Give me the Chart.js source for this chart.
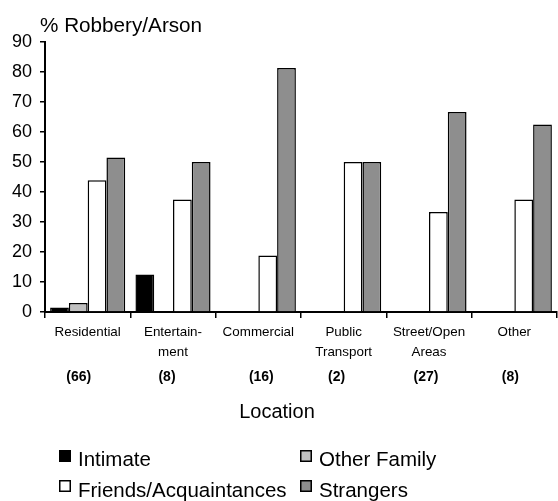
<!DOCTYPE html>
<html>
<head>
<meta charset="utf-8">
<script src="https://cdn.jsdelivr.net/npm/chart.js@4"></script>
<style>
  html, body { margin: 0; padding: 0; background: #ffffff; }
  #wrap { width: 558px; height: 501px; }
</style>
</head>
<body>
<div id="wrap"><canvas id="chart" width="558" height="501"></canvas></div>
<script>
// Location categories (multi-line labels) and number of cases per location
const locations = [["Residential"], ["Entertain-", "ment"], ["Commercial"], ["Public", "Transport"], ["Street/Open", "Areas"], ["Other"]];
const caseCounts = [66, 8, 16, 2, 27, 8];

// Percentage of robbery/arson offences by victim-offender relationship
const intimate    = [1.5, 12.5, 0, 0, 0, 0];
const otherFamily = [3.0, 0, 0, 0, 0, 0];
const friends     = [43.9, 37.5, 18.8, 50, 33.3, 37.5];
const strangers   = [51.5, 50, 81.3, 50, 66.7, 62.5];

const seriesNames = ["Intimate", "Other Family", "Friends/Acquaintances", "Strangers"];
const yMax = 90;
const yStep = 10;

// small horizontal nudges for the case-count labels under each location
const countNudge = [-9, -6, 3, -7, -3, -4];

const FONT = "'Liberation Sans', Arial, sans-serif";
const fills = ["#000000", "#c0c0c0", "#ffffff", "#8e8e8e"];

const edge = (ctx) => (ctx.raw ? 1.5 : 0);

const extras = {
  id: "extras",
  afterDraw(chart) {
    const { ctx, scales } = chart;
    const x = scales.x;
    ctx.save();
    ctx.fillStyle = "#000";

    // value axis caption
    ctx.font = "20.7px " + FONT;
    ctx.textAlign = "left";
    ctx.textBaseline = "alphabetic";
    ctx.fillText("% Robbery/Arson", 40, 32);

    // case counts
    ctx.font = "bold 14px " + FONT;
    ctx.textAlign = "center";
    ctx.textBaseline = "middle";
    caseCounts.forEach((n, i) => {
      ctx.fillText("(" + n + ")", x.getPixelForValue(i) + countNudge[i], 377);
    });

    // category axis caption
    ctx.font = "20px " + FONT;
    ctx.textBaseline = "alphabetic";
    ctx.fillText("Location", 277, 418);

    // legend, two columns
    const cols = [59, 300];
    const rows = [{ box: 450, base: 466 }, { box: 480, base: 497 }];
    ctx.font = "20.5px " + FONT;
    ctx.textAlign = "left";
    chart.data.datasets.forEach((ds, i) => {
      const cx = cols[i % 2];
      const r = rows[Math.floor(i / 2)];
      ctx.fillStyle = ds.backgroundColor;
      ctx.fillRect(cx, r.box, 12, 12);
      ctx.strokeStyle = "#000";
      ctx.lineWidth = 1.5;
      ctx.strokeRect(cx + 0.75, r.box + 0.75, 10.5, 10.5);
      ctx.fillStyle = "#000";
      ctx.fillText(ds.label, cx + 19, r.base);
    });
    ctx.restore();
  }
};

const seriesValues = [intimate, otherFamily, friends, strangers];

new Chart(document.getElementById("chart"), {
  type: "bar",
  data: {
    labels: locations,
    datasets: seriesValues.map((vals, i) => ({
      label: seriesNames[i],
      data: vals,
      backgroundColor: fills[i],
      borderColor: "#000",
      borderWidth: edge,
      borderSkipped: "start",
      categoryPercentage: 0.88,
      barPercentage: 1.0
    }))
  },
  options: {
    responsive: false,
    animation: false,
    devicePixelRatio: 1,
    layout: { padding: { top: 42, right: 1, left: 0, bottom: 0 } },
    plugins: {
      legend: { display: false },
      tooltip: { enabled: false },
      title: { display: false }
    },
    scales: {
      x: {
        grid: { display: true, drawOnChartArea: false, drawTicks: true, tickLength: 6, color: "#000", lineWidth: 1.5, offset: true },
        border: { display: true, color: "#000", width: 2 },
        ticks: {
          color: "#000",
          font: { family: FONT, size: 13.4, lineHeight: 1.49 },
          padding: 4,
          maxRotation: 0,
          autoSkip: false
        },
        afterFit(scale) { scale.height = 189; }
      },
      y: {
        min: 0,
        max: yMax,
        grid: { display: true, drawOnChartArea: false, drawTicks: true, tickLength: 5, color: "#000", lineWidth: 1.5 },
        border: { display: true, color: "#000", width: 2 },
        ticks: {
          stepSize: yStep,
          color: "#000",
          padding: 8,
          font: { family: FONT, size: 18 }
        },
        afterFit(scale) { scale.width = 45; }
      }
    }
  },
  plugins: [extras]
});
</script>
</body>
</html>
